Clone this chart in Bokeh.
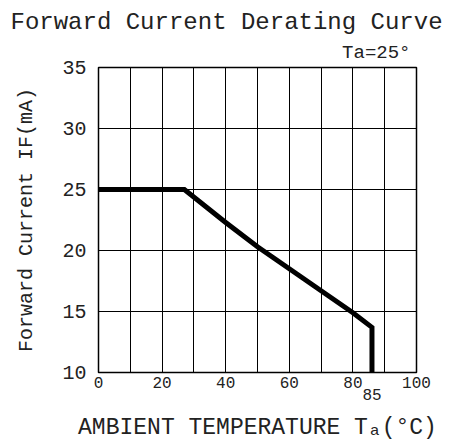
from bokeh.plotting import figure
from bokeh.models import Range1d, FixedTicker, Title, LinearAxis
from bokeh.embed import file_html
from bokeh.resources import INLINE

# ---- data ----
temp = [0, 27, 40, 50, 60, 70, 80, 86, 86]
current = [25, 25, 22.3, 20.3, 18.5, 16.7, 14.9, 13.7, 10]
x_ticks = [0, 20, 40, 60, 80, 100]
y_ticks = [10, 15, 20, 25, 30, 35]
x_grid = [0, 10, 20, 30, 40, 50, 60, 70, 80, 90, 100]
title_text = "Forward Current Derating Curve"
cond_text = "Ta=25°"
mark_x = 86
mark_label = "85"
x_label = "AMBIENT TEMPERATURE Tₐ(°C)"
y_label = "Forward Current IF(mA)"

FONT = "Liberation Mono"
TXT = "#222222"

p = figure(width=468, height=444, output_backend="svg", toolbar_location=None,
           title=None,
           x_range=Range1d(0, 100), y_range=Range1d(10, 35),
           min_border_left=98, min_border_right=52,
           min_border_top=67, min_border_bottom=72)
p.background_fill_color = "white"
p.border_fill_color = "white"
p.outline_line_color = "black"
p.outline_line_width = 1.5
p.outline_line_alpha = 1.0

# grids
p.xgrid.ticker = FixedTicker(ticks=x_grid)
p.ygrid.ticker = FixedTicker(ticks=y_ticks)
for g in (p.xgrid, p.ygrid):
    g.grid_line_color = "black"
    g.grid_line_width = 1
    g.grid_line_alpha = 1.0

# secondary x axis carrying the "85" mark and the axis title
mark_axis = LinearAxis(ticker=FixedTicker(ticks=[mark_x]),
                       major_label_overrides={mark_x: mark_label})
p.add_layout(mark_axis, "below")

# axes
p.xaxis[0].ticker = FixedTicker(ticks=x_ticks)
p.yaxis.ticker = FixedTicker(ticks=y_ticks)
for ax in (p.xaxis[0], mark_axis, p.yaxis[0]):
    ax.major_tick_in = 0
    ax.major_tick_out = 0
    ax.minor_tick_in = 0
    ax.minor_tick_out = 0
    ax.axis_line_color = None
    ax.major_label_text_font = FONT
    ax.major_label_text_color = TXT
    ax.axis_label_text_font = FONT
    ax.axis_label_text_color = TXT
    ax.axis_label_text_font_style = "normal"

p.xaxis[0].major_label_text_font_size = "16px"
p.xaxis[0].major_label_text_align = "right"
p.xaxis[0].major_label_standoff = 4

mark_axis.major_label_text_font_size = "16px"
mark_axis.major_label_standoff = -2
mark_axis.axis_label = x_label
mark_axis.axis_label_text_font_size = "23px"
mark_axis.axis_label_standoff = 12

p.yaxis.major_label_text_font_size = "20px"
p.yaxis.major_label_standoff = 12
p.yaxis.axis_label = y_label
p.yaxis.axis_label_text_font_size = "20px"
p.yaxis.axis_label_standoff = 21

# curve
p.line(temp, current, line_width=5, line_color="black", line_join="miter")

# titles (closest to frame added first)
p.add_layout(Title(text=cond_text, align="right", offset=6, standoff=8,
                   text_font=FONT, text_font_size="19px", text_color=TXT,
                   text_font_style="normal"), "above")
p.add_layout(Title(text=title_text, align="left", offset=-88, standoff=0,
                   text_font=FONT, text_font_size="24px", text_color=TXT,
                   text_font_style="normal"), "above")

open("out.html", "w").write(file_html(p, INLINE))
